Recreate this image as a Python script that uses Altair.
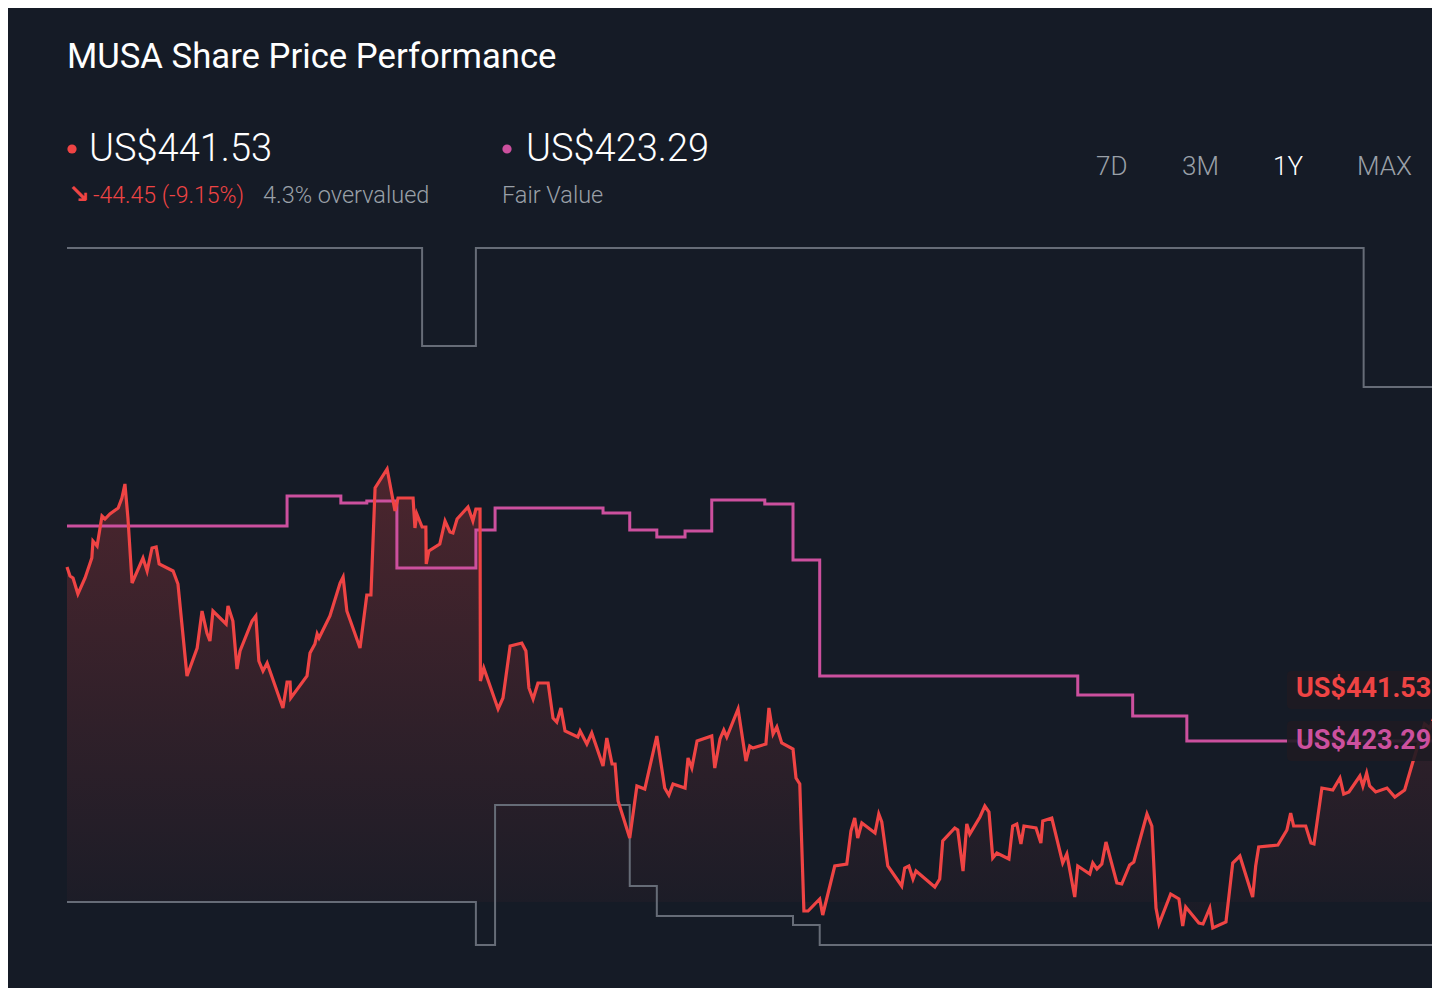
import altair as alt
import pandas as pd

# ---- price series (day offset within the 1-year window, US$) ----
price_day = [0, 0.8, 1.6, 2.9, 4.8, 6.6, 6.9, 8.0, 9.3, 10.1, 11.4, 13.6, 14.6, 15.4, 16.2, 17.3,
             20.2, 21.3, 22.6, 23.7, 24.5, 28.2, 29.5, 31.9, 34.6, 35.9, 37.2, 38.0, 38.8, 42.3,
             42.8, 44.1, 45.2, 46.0, 49.2, 50.2, 51.0, 52.1, 53.2, 57.4, 58.5, 59.3, 59.5, 63.8,
             64.6, 65.9, 66.5, 67.0, 69.9, 72.6, 73.4, 74.4, 77.9, 79.7, 80.8, 81.9, 85.1, 87.2,
             88.0, 92.0, 92.5, 93.0, 94.4, 95.4, 95.5, 96.2, 99.1, 100.5, 101.8, 102.6, 103.7,
             106.6, 107.9, 108.7, 109.8, 109.9, 110.8, 114.6, 115.9, 117.8, 120.9, 122.0, 122.8,
             123.9, 125.2, 127.9, 129.2, 130.2, 131.3, 132.4, 135.8, 136.4, 138.2, 139.5, 142.5,
             143.5, 144.9, 145.7, 146.5, 149.6, 151.5, 153.6, 156.8, 158.9, 160.0, 161.1, 164.3,
             165.1, 166.1, 167.5, 171.4, 172.2, 173.6, 174.6, 175.4, 178.4, 180.5, 181.5, 182.3,
             185.8, 186.6, 187.7, 188.7, 190.0, 193.0, 193.8, 194.8, 195.9, 197.0, 200.1, 200.9,
             204.1, 207.3, 208.4, 209.4, 210.2, 211.3, 214.8, 215.8, 216.6, 218.2, 221.9, 222.7,
             223.8, 224.9, 225.7, 230.7, 232.0, 232.8, 236.0, 236.8, 238.2, 239.2, 240.0, 242.7,
             244.0, 245.1, 246.1, 247.2, 250.4, 251.4, 252.5, 253.6, 254.4, 257.6, 258.9, 259.4,
             261.8, 264.7, 265.8, 267.9, 268.7, 271.9, 272.7, 273.8, 275.1, 276.2, 279.1, 280.4,
             282.5, 283.6, 287.1, 288.4, 289.5, 290.3, 293.4, 295.6, 296.6, 297.4, 300.9, 302.0,
             303.8, 304.6, 308.1, 309.9, 311.8, 315.2, 316.0, 316.8, 321.9, 324.3, 325.3, 326.1,
             329.3, 330.7, 331.5, 333.6, 336.5, 338.4, 339.4, 340.8, 343.7, 344.5, 345.5, 346.3,
             347.9, 350.9, 353.0, 355.6, 357.7, 360.9, 362.3, 364.1, 365.0]
price_val = [510.3, 505.8, 504.8, 496.8, 504.8, 514.8, 523.3, 520.8, 535.8, 534.3, 536.8, 539.8,
             544.8, 551.8, 534.8, 502.3, 514.8, 508.3, 519.8, 520.3, 511.8, 508.3, 501.8, 455.8,
             469.8, 488.3, 477.3, 473.3, 488.3, 481.8, 490.8, 483.3, 459.3, 468.3, 483.3, 485.8,
             463.3, 458.3, 462.3, 439.8, 452.8, 452.8, 444.8, 455.8, 467.3, 471.8, 476.8, 474.8,
             485.8, 502.3, 505.3, 488.3, 469.8, 496.3, 496.3, 549.8, 559.3, 538.3, 544.8, 544.8,
             529.8, 536.8, 530.3, 530.3, 511.8, 518.3, 521.8, 533.3, 527.8, 527.3, 534.3, 540.3,
             533.3, 539.3, 539.3, 453.3, 459.8, 439.3, 444.8, 470.8, 472.3, 468.3, 449.8, 444.3,
             452.3, 452.3, 434.8, 432.8, 439.8, 428.3, 425.3, 428.3, 421.8, 427.3, 410.8, 424.8,
             411.8, 411.8, 393.3, 374.8, 400.8, 399.3, 425.8, 399.8, 396.3, 401.8, 399.8, 414.8,
             409.8, 423.3, 425.8, 409.8, 424.3, 428.8, 425.3, 439.3, 413.3, 420.8, 419.8, 421.8,
             439.8, 426.8, 430.3, 422.3, 419.3, 404.8, 401.8, 338.3, 338.3, 344.3, 336.3, 360.8,
             361.8, 378.3, 384.8, 374.8, 382.3, 377.3, 386.8, 382.8, 360.8, 350.8, 359.8, 360.8,
             354.3, 358.3, 350.3, 354.3, 373.3, 379.8, 378.8, 358.3, 381.8, 376.8, 385.3, 390.8,
             387.8, 364.8, 367.3, 364.3, 380.8, 381.8, 371.8, 380.8, 379.8, 372.3, 383.3, 384.8,
             362.3, 366.8, 345.3, 360.8, 356.8, 362.3, 359.3, 361.8, 372.8, 352.3, 351.8, 361.3,
             362.8, 386.8, 380.8, 339.8, 331.8, 346.8, 344.3, 330.8, 340.3, 332.3, 331.8, 339.8,
             329.8, 332.8, 362.3, 365.8, 345.3, 360.8, 370.3, 371.3, 378.8, 387.3, 380.8, 380.8,
             372.3, 371.8, 399.8, 398.8, 404.8, 396.8, 397.8, 405.8, 400.8, 407.3, 400.8, 397.8,
             399.8, 395.3, 398.8, 412.3, 431.8, 429.8, 438.3, 441.53]

# ---- fair value (step) ----
fv_day = [0, 58.5, 72.8, 79.7, 87.7, 108.7, 113.8, 142.5, 149.6, 156.8, 164.3, 171.4, 185.5,
          193.0, 200.1, 268.7, 283.3, 297.7, 365.0]
fv_val = [530.8, 545.8, 542.3, 543.3, 509.8, 528.8, 539.8, 537.3, 528.8, 525.3, 528.3, 543.8,
          541.8, 513.8, 455.8, 446.3, 435.8, 423.29, 423.29]

# ---- analyst range bounds (step) ----
hi_day = [0, 94.4, 108.7, 344.7, 365.0]
hi_val = [669.8, 620.8, 669.8, 600.3, 600.3]
lo_day = [0, 108.7, 113.8, 149.6, 156.8, 193.0, 200.1, 365.0]
lo_val = [342.8, 321.3, 391.3, 350.8, 335.8, 331.3, 321.3, 321.3]

# ---- texts ----
title_text = "MUSA Share Price Performance"
last_price = "US$441.53"
change_text = "-44.45 (-9.15%)"
valuation_text = "4.3% overvalued"
fair_value = "US$423.29"
fair_label = "Fair Value"
tabs = ["7D", "3M", "1Y", "MAX"]

BG = "#151b26"
RED = "#ef4444"
PINK = "#cc509e"
GREY_LINE = "#666c77"
GREY_TEXT = "#9aa0a8"
FONT = "Roboto"

price_df = pd.DataFrame({"day": price_day, "price": price_val})
fv_df = pd.DataFrame({"day": fv_day, "value": fv_val})
hi_df = pd.DataFrame({"day": hi_day, "value": hi_val})
lo_df = pd.DataFrame({"day": lo_day, "value": lo_val})

# the plotted year runs a little past the visible right edge of the page
xs = alt.Scale(domain=[0, 365], range=[0, 1373], nice=False, zero=False)
ys = alt.Scale(domain=[321.3, 669.8], nice=False, zero=False)


def X(f):
    return alt.X(f"{f}:Q", scale=xs, axis=None)


def Y(f):
    return alt.Y(f"{f}:Q", scale=ys, axis=None)


grad = alt.Gradient(
    gradient="linear",
    stops=[alt.GradientStop(color="rgba(239,68,68,0.25)", offset=0),
           alt.GradientStop(color="rgba(239,68,68,0.02)", offset=1)],
    x1=1, x2=1, y1=0, y2=1,
)

area = alt.Chart(price_df).mark_area(color=grad).encode(
    x=X("day"), y=Y("price"), y2=alt.datum(342.8))
hi_line = alt.Chart(hi_df).mark_line(interpolate="step-after", color=GREY_LINE, strokeWidth=2).encode(
    x=X("day"), y=Y("value"))
lo_line = alt.Chart(lo_df).mark_line(interpolate="step-after", color=GREY_LINE, strokeWidth=2).encode(
    x=X("day"), y=Y("value"))
fv_line = alt.Chart(fv_df).mark_line(interpolate="step-after", color=PINK, strokeWidth=3).encode(
    x=X("day"), y=Y("value"))
price_line = alt.Chart(price_df).mark_line(color=RED, strokeWidth=3.2, strokeJoin="miter").encode(
    x=X("day"), y=Y("price"))


def txt(s, x, y, size, color, weight=400, font=FONT, align="left", baseline="middle"):
    return alt.Chart(pd.DataFrame({"t": [s]})).mark_text(
        align=align, baseline=baseline, font=font, fontSize=size, fontWeight=weight,
        color=color,
    ).encode(text="t:N", x=alt.value(x), y=alt.value(y))


def dot(x, y, color):
    return alt.Chart(pd.DataFrame({"t": [0]})).mark_circle(size=85, color=color, opacity=1).encode(
        x=alt.value(x), y=alt.value(y))


def box(x, x2, y, y2):
    return alt.Chart(pd.DataFrame({"t": [0]})).mark_rect(
        color="#1e1b22", opacity=0.9, cornerRadius=4).encode(
        x=alt.value(x), x2=alt.value(x2), y=alt.value(y), y2=alt.value(y2))


# end labels, positioned by their values
last_df = pd.DataFrame({"day": [price_day[-1]], "v": [price_val[-1]], "t": [last_price]})
fvl_df = pd.DataFrame({"day": [fv_day[-1]], "v": [fv_val[-1]], "t": [fair_value]})
end_price = alt.Chart(last_df).mark_text(
    align="left", baseline="middle", font=FONT, fontSize=27, fontWeight="bold",
    color=RED, dy=-16).encode(
    x=alt.value(1229), y=Y("v"), text="t:N")
end_fv = alt.Chart(fvl_df).mark_text(
    align="left", baseline="middle", font=FONT, fontSize=27, fontWeight="bold",
    color=PINK).encode(
    x=alt.value(1229), y=Y("v"), text="t:N")

layers = [
    area, hi_line, lo_line, fv_line, price_line,
    box(1220, 1380, 423, 461), box(1220, 1380, 473, 513),
    end_price, end_fv,
    txt(title_text, 0, -190, 34.7, "#ffffff", weight=400),
    dot(5, -99, RED),
    txt(last_price, 22, -98, 38, "#ffffff", weight=300),
    txt("↘", 1, -53, 26, RED, weight="bold", font="DejaVu Sans"),
    txt(change_text, 26, -52, 23, RED, weight=300),
    txt(valuation_text, 196, -52, 23.5, GREY_TEXT, weight=300),
    dot(440, -99, PINK),
    txt(fair_value, 459, -98, 38, "#ffffff", weight=300),
    txt(fair_label, 435, -52, 23.5, GREY_TEXT, weight=300),
    txt(tabs[0], 1029, -81, 26, GREY_TEXT, weight=300),
    txt(tabs[1], 1115, -81, 26, GREY_TEXT, weight=300),
    txt(tabs[2], 1206, -81, 26, "#ffffff", weight=300),
    txt(tabs[3], 1290, -81, 26, GREY_TEXT, weight=300),
]

chart = alt.layer(*layers).properties(
    width=1365, height=697,
    padding={"left": 59, "top": 240, "right": 0, "bottom": 43},
    autosize=alt.AutoSizeParams(type="none"),
    background=BG,
).configure_view(strokeWidth=0)

chart.save("out.html", embed_options={"renderer": "svg", "actions": False})
